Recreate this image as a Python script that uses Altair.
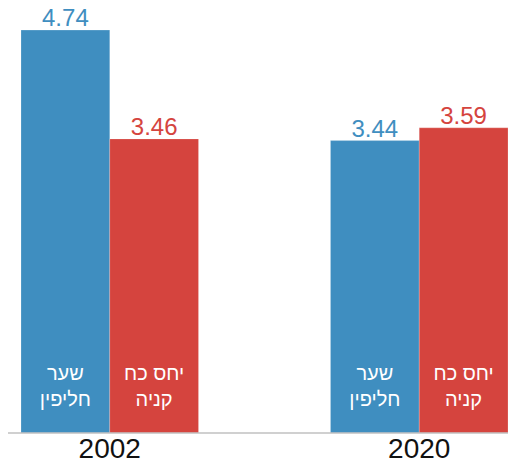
import altair as alt
import pandas as pd

years = ["2002", "2002", "2020", "2020"]
series = ["שער\nחליפין", "יחס כח\nקניה", "שער\nחליפין", "יחס כח\nקניה"]
order = [0, 1, 0, 1]
values = [4.74, 3.46, 3.44, 3.59]
colors = ["#3f8ec0", "#d5443e"]

df = pd.DataFrame({"year": years, "series": series, "order": order, "value": values})

xenc = alt.X("year:N", title=None,
             scale=alt.Scale(paddingInner=0.4264, paddingOuter=0),
             axis=alt.Axis(labelAngle=0, ticks=False, domain=False, labelFontSize=28,
                           labelColor="#111111", labelFont="Liberation Sans", labelPadding=2))
xoff = alt.XOffset("order:O")
col = alt.Color("order:O", scale=alt.Scale(domain=[0, 1], range=colors), legend=None)
yenc = alt.Y("value:Q", scale=alt.Scale(domain=[0, 5]), axis=None)

base = alt.Chart(df)

bars = base.mark_bar(stroke="white", strokeWidth=0.4, strokeOpacity=0.5).encode(
    x=xenc, xOffset=xoff, y=yenc, color=col)

vals = base.mark_text(baseline="alphabetic", dy=-4, fontSize=24, font="Liberation Sans").encode(
    x=xenc, xOffset=xoff, y=yenc, color=col, text=alt.Text("value:Q", format=".2f"))

inner = base.mark_text(baseline="middle", dy=-59, fontSize=20, lineHeight=26,
                       lineBreak="\n", color="white", font="Liberation Sans").encode(
    x=xenc, xOffset=xoff, y=alt.value(425), text="series:N")

rule = alt.Chart(pd.DataFrame({"a": [0]})).mark_rule(color="#c0c0c0", strokeWidth=1.5).encode(
    x=alt.value(-14), x2=alt.value(487), y=alt.value(425))

chart = alt.layer(bars, vals, inner, rule).properties(
    width=487, height=425,
    autosize=alt.AutoSizeParams(type="none"),
    padding={"left": 13, "top": 0, "right": 0, "bottom": 28}
).configure_view(stroke=None)

chart.save("out.html", embed_options={"renderer": "svg", "actions": False})
